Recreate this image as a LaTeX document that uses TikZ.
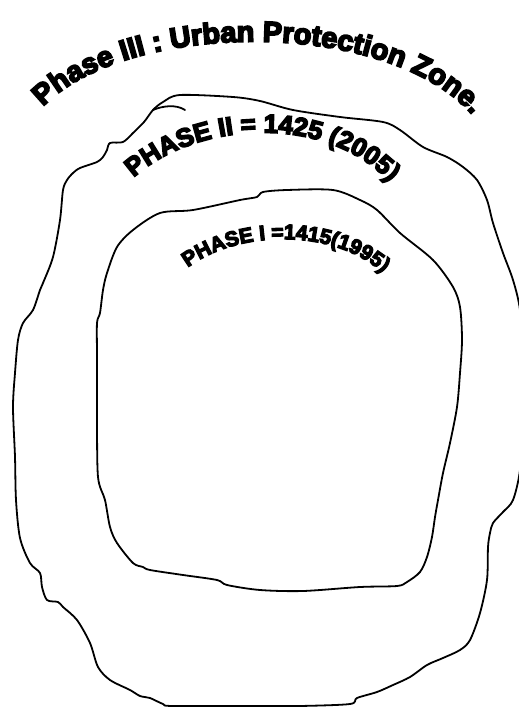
\documentclass[tikz,border=0pt]{standalone}
\usepackage{fontspec}
\usepackage{tikz}
\usetikzlibrary{decorations.text}
\newfontfamily\zonefont{Liberation Sans}[BoldFont={Liberation Sans Bold}, BoldFeatures={FakeBold=6}]

\begin{document}
\begin{tikzpicture}[x=1bp, y=1bp,
  zone/.style={draw=black, line width=1.8bp, line join=round, line cap=round},
  zonelabel/.style={decorate, decoration={text along path, text align=center, text={#1}}},
]
  \useasboundingbox (0,0) rectangle (519,-707);
  \clip (0,0) rectangle (519,-707);

  \draw[zone] plot[smooth cycle, tension=0.5] coordinates {
    (163,-102) (180,-95) (233,-97) (260,-101) (293,-110) (340,-117) (383,-122)
    (400,-130) (423,-147) (447,-157) (463,-167) (477,-180) (487,-200) (493,-223)
    (503,-253) (513,-280) (520,-310) (523,-360) (523,-420) (520,-470) (513,-500)
    (503,-512) (493,-523) (490,-533) (488,-547) (487,-580) (480,-613) (470,-640)
    (460,-650) (443,-658) (427,-665) (410,-677) (393,-685) (377,-692) (357,-698)
    (350,-704) (300,-706) (260,-706) (173,-706) (163,-704) (150,-698) (140,-696)
    (130,-690) (110,-680) (98,-667) (90,-643) (77,-620) (63,-607) (58,-602)
    (47,-600) (42,-587) (40,-573) (30,-563) (20,-538) (16,-500) (15,-457)
    (13,-407) (15,-373) (18,-340) (23,-323) (33,-310) (40,-290) (43,-283)
    (53,-257) (60,-220) (63,-190) (67,-180) (73,-173) (80,-168) (97,-162)
    (103,-157) (107,-150) (110,-143) (123,-142) (133,-133) (144,-122) (153,-110)};
  \draw[zone] (153,-110) .. controls (162,-106) and (176,-104) .. (185,-110);

  \draw[zone] plot[smooth cycle, tension=0.5] coordinates {
    (160,-213) (193,-210) (240,-200) (257,-197) (263,-192) (287,-190) (333,-190)
    (360,-200) (377,-210) (400,-233) (433,-260) (453,-287) (460,-307) (462,-340)
    (460,-373) (457,-407) (450,-443) (443,-473) (438,-500) (435,-517) (432,-537)
    (427,-557) (420,-572) (407,-582) (397,-586) (360,-587) (303,-591) (260,-590)
    (227,-585) (217,-580) (183,-575) (150,-570) (143,-567) (133,-563) (117,-543)
    (110,-527) (105,-500) (98,-477) (97,-417) (97,-357) (97,-323) (100,-313)
    (103,-290) (107,-273) (117,-247) (133,-230)};

  \path[zonelabel={|\zonefont\bfseries\fontsize{29}{29}\selectfont|Phase III : Urban Protection Zone.}]
    (40,-110) .. controls (120,-20) and (390,-15) .. (475,-118);
  \path[zonelabel={|\zonefont\bfseries\fontsize{26}{26}\selectfont|PHASE II = 1425 (2005)}]
    (128,-183) .. controls (190,-120) and (330,-110) .. (395,-188);
  \path[zonelabel={|\zonefont\bfseries\fontsize{21}{21}\selectfont|PHASE I =1415(1995)}]
    (180,-274) .. controls (230,-228) and (340,-225) .. (390,-280);
\end{tikzpicture}
\end{document}
